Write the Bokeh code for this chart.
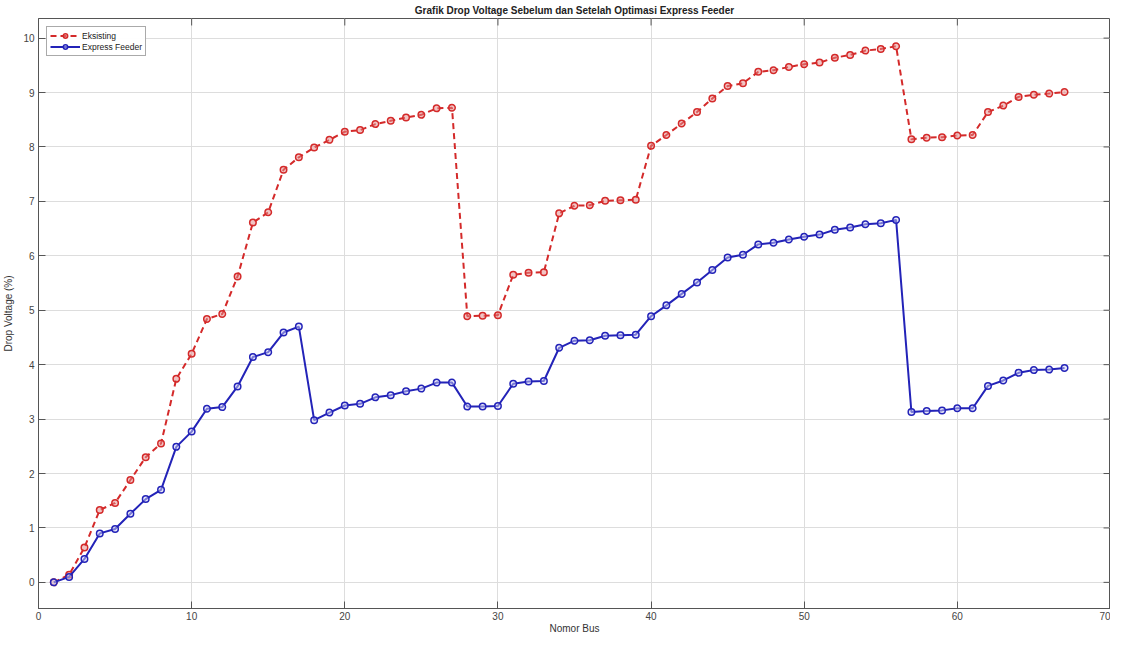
from bokeh.plotting import figure
from bokeh.models import Range1d, FixedTicker, Legend, LegendItem
from bokeh.embed import file_html
from bokeh.resources import INLINE

bus = list(range(1, 68))
eksisting = [0.00, 0.14, 0.64, 1.33, 1.46, 1.88, 2.30, 2.55, 3.74, 4.20,
             4.84, 4.93, 5.62, 6.61, 6.80, 7.58, 7.81, 7.99, 8.13, 8.28,
             8.31, 8.42, 8.48, 8.54, 8.59, 8.71, 8.72, 4.89, 4.90, 4.91,
             5.65, 5.69, 5.70, 6.78, 6.92, 6.93, 7.01, 7.02, 7.03, 8.02,
             8.22, 8.43, 8.64, 8.89, 9.12, 9.17, 9.38, 9.41, 9.47, 9.52,
             9.55, 9.64, 9.69, 9.77, 9.80, 9.85, 8.14, 8.17, 8.18, 8.21,
             8.22, 8.64, 8.76, 8.92, 8.96, 8.98, 9.01]
express = [0.00, 0.10, 0.43, 0.90, 0.98, 1.26, 1.53, 1.70, 2.49, 2.77,
           3.19, 3.22, 3.60, 4.14, 4.23, 4.59, 4.70, 2.98, 3.12, 3.25,
           3.28, 3.40, 3.44, 3.51, 3.56, 3.67, 3.67, 3.23, 3.23, 3.24,
           3.65, 3.69, 3.70, 4.31, 4.44, 4.45, 4.53, 4.54, 4.55, 4.89,
           5.09, 5.30, 5.51, 5.74, 5.97, 6.02, 6.21, 6.24, 6.30, 6.35,
           6.39, 6.48, 6.52, 6.58, 6.60, 6.66, 3.13, 3.15, 3.16, 3.20,
           3.20, 3.61, 3.71, 3.85, 3.90, 3.91, 3.94]
x_ticks = [0, 10, 20, 30, 40, 50, 60, 70]
y_ticks = [0, 1, 2, 3, 4, 5, 6, 7, 8, 9, 10]

FONT = "Liberation Sans"
X0, X1 = 0, 70
Y0, Y1 = -0.48, 10.36

p = figure(width=1110, height=636, output_backend="svg", toolbar_location=None,
           x_range=Range1d(X0, X1), y_range=Range1d(Y0, Y1),
           title="Grafik Drop Voltage Sebelum dan Setelah Optimasi Express Feeder",
           min_border_left=32, min_border_right=-6, min_border_top=14, min_border_bottom=0)

p.title.align = "center"
p.title.text_font = FONT
p.title.text_font_size = "10px"
p.title.text_font_style = "bold"
p.title.text_color = "#222222"
p.title.standoff = 5
p.title.offset = 0

p.outline_line_color = "#555555"
p.outline_line_width = 1

p.xgrid.grid_line_color = "#dddddd"
p.ygrid.grid_line_color = "#dddddd"
p.xgrid.ticker = FixedTicker(ticks=x_ticks)
p.ygrid.ticker = FixedTicker(ticks=y_ticks)

for ax in [p.xaxis[0], p.yaxis[0]]:
    ax.axis_line_color = "#555555"
    ax.major_tick_line_color = "#555555"
    ax.major_tick_in = 7
    ax.major_tick_out = 0
    ax.minor_tick_line_color = None
    ax.major_label_text_font = FONT
    ax.major_label_text_font_size = "10px"
    ax.major_label_text_color = "#444444"
    ax.axis_label_text_font = FONT
    ax.axis_label_text_font_size = "10px"
    ax.axis_label_text_font_style = "normal"
    ax.axis_label_text_color = "#333333"

p.xaxis[0].ticker = FixedTicker(ticks=x_ticks)
p.yaxis[0].ticker = FixedTicker(ticks=y_ticks)
p.xaxis[0].axis_label = "Nomor Bus"
p.yaxis[0].axis_label = "Drop Voltage (%)"
p.xaxis[0].major_label_standoff = 3
p.xaxis[0].axis_label_standoff = 0
p.yaxis[0].major_label_standoff = 4
p.yaxis[0].axis_label_standoff = 6

# box ticks on the top and right edges, from the tick lists
tx = [t for t in x_ticks if X0 < t < X1]
ty = [t for t in y_ticks if Y0 < t < Y1]
ylen = (Y1 - Y0) * 7 / 592
xlen = (X1 - X0) * 7 / 1077
p.segment(x0=tx, y0=[Y1] * len(tx), x1=tx, y1=[Y1 - ylen] * len(tx),
          line_color="#555555", line_width=1)
p.segment(x0=[X1] * len(ty), y0=ty, x1=[X1 - xlen] * len(ty), y1=ty,
          line_color="#555555", line_width=1)

RED = "#d42a2a"
BLUE = "#2323b8"

r1 = p.line(bus, eksisting, line_color=RED, line_width=2, line_dash="6 4")
s1 = p.scatter(bus, eksisting, marker="circle", size=6.5, line_color=RED, line_width=1.5,
               fill_color="#e48a8a", fill_alpha=0.5)
r2 = p.line(bus, express, line_color=BLUE, line_width=2)
s2 = p.scatter(bus, express, marker="circle", size=6.5, line_color=BLUE, line_width=1.5,
               fill_color="#d0d0f4", fill_alpha=0.5)

legend = Legend(items=[LegendItem(label="Eksisting", renderers=[r1, s1]),
                       LegendItem(label="Express Feeder", renderers=[r2, s2])],
                location="top_left")
legend.label_text_font = FONT
legend.label_text_font_size = "8.5px"
legend.label_text_color = "#222222"
legend.glyph_height = 11
legend.glyph_width = 30
legend.label_height = 11
legend.spacing = 0
legend.padding = 3
legend.margin = 8
legend.label_standoff = 2
legend.border_line_color = "#555555"
legend.border_line_width = 1
p.add_layout(legend)

open("out.html", "w").write(file_html(p, INLINE))
